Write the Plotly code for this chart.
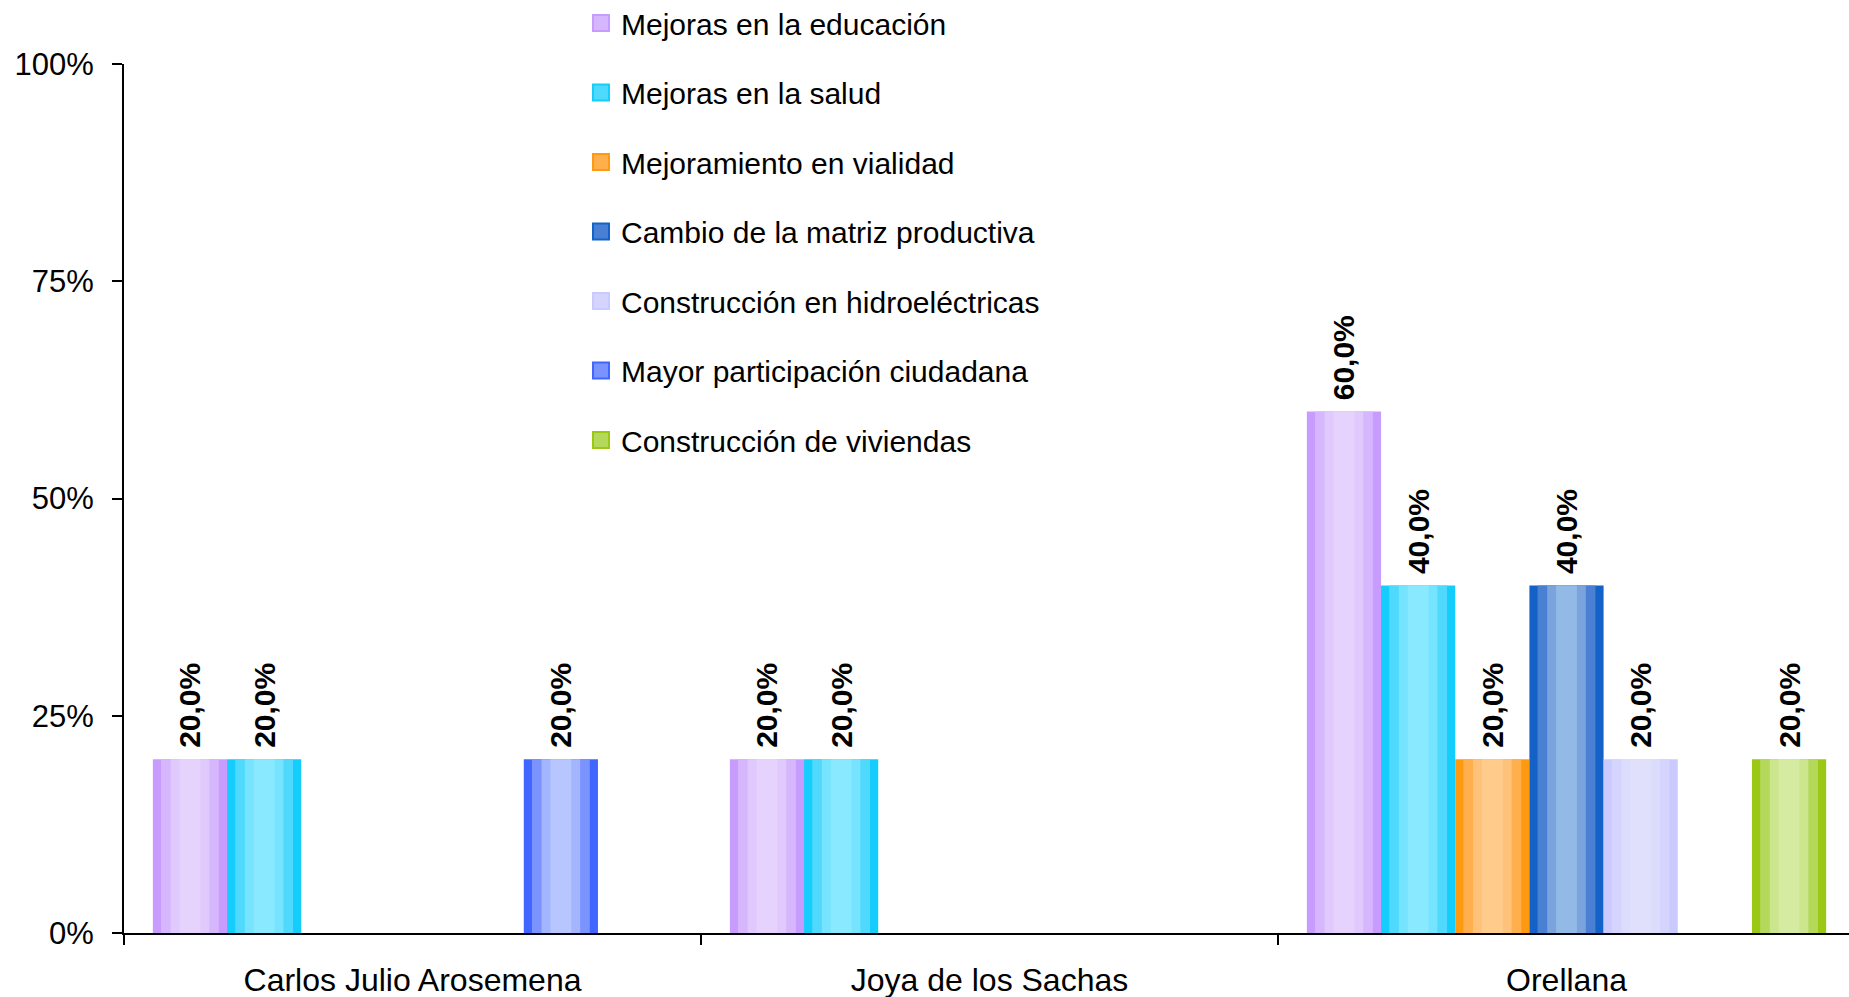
import plotly.graph_objects as go

categories = ["Carlos Julio Arosemena", "Joya de los Sachas", "Orellana"]

series_names = [
    "Mejoras en la educación",
    "Mejoras en la salud",
    "Mejoramiento en vialidad",
    "Cambio de la matriz productiva",
    "Construcción en hidroeléctricas",
    "Mayor participación ciudadana",
    "Construcción de viviendas",
]

educacion = [0.2, 0.2, 0.6]
salud = [0.2, 0.2, 0.4]
vialidad = [None, None, 0.2]
matriz = [None, None, 0.4]
hidro = [None, None, 0.2]
participacion = [0.2, None, None]
viviendas = [None, None, 0.2]

series_values = [educacion, salud, vialidad, matriz, hidro, participacion, viviendas]

y_tick_vals = [0, 0.25, 0.5, 0.75, 1.0]

# gradient shades: edge -> center
shades = [
    ["#c89cff", "#d6b6fd", "#e0c9fc", "#e6d3fd"],
    ["#14cdfd", "#4ed9fd", "#76e4fe", "#88e9ff"],
    ["#ff9a10", "#ffb04c", "#ffc27a", "#ffcc8c"],
    ["#1462c8", "#4a80d4", "#7ba4de", "#93bae6"],
    ["#cacaff", "#d4d4ff", "#dcdcfd", "#e0e0fd"],
    ["#4066ff", "#7a93ff", "#a4b5ff", "#b8c6ff"],
    ["#9ac814", "#b4d85a", "#cce68e", "#d6eba2"],
]

bargap = 0.1
slot = (1 - bargap) / len(series_names)
width_factors = [0.78, 0.52, 0.28]

FONT = "Liberation Sans, Arial, sans-serif"

fig = go.Figure()
for i, (name, vals) in enumerate(zip(series_names, series_values)):
    fig.add_trace(go.Bar(
        x=categories, y=vals, name=name,
        offsetgroup=str(i), legendgroup=str(i), showlegend=False,
        marker=dict(color=shades[i][0], line=dict(width=0)),
        texttemplate="\u00a0%{y:.1%}", textposition="outside", textangle=-90,
        textfont=dict(family=FONT, size=30, color="black", weight="bold"),
        cliponaxis=False, constraintext="none",
        hoverinfo="skip",
    ))
    for k, wf in enumerate(width_factors):
        fig.add_trace(go.Bar(
            x=categories, y=vals, name=name,
            offsetgroup=str(i), legendgroup=str(i), showlegend=False,
            width=slot * wf,
            marker=dict(color=shades[i][k + 1], line=dict(width=0)),
            hoverinfo="skip",
        ))

# legend entries (square swatches, larger than the default bar swatch)
for i, name in enumerate(series_names):
    fig.add_trace(go.Scatter(
        x=[None], y=[None], mode="markers", name=name,
        legendgroup=str(i), showlegend=True,
        marker=dict(symbol="square", size=16, color=shades[i][1],
                    line=dict(color=shades[i][0], width=2)),
        hoverinfo="skip",
    ))

fig.update_layout(
    width=1855, height=997,
    margin=dict(l=124, r=0, t=64, b=64, autoexpand=False),
    paper_bgcolor="white", plot_bgcolor="white",
    barmode="group", bargap=bargap, bargroupgap=0,
    separators=",.",
    font=dict(family=FONT, size=30, color="black"),
    showlegend=True,
    legend=dict(
        x=0.264, y=1.077, xanchor="left", yanchor="top",
        font=dict(family=FONT, size=30, color="black"),
        traceorder="grouped", tracegroupgap=27.5,
        bgcolor="rgba(0,0,0,0)", itemwidth=30, itemsizing="trace",
    ),
)

fig.update_xaxes(
    type="category", tickson="boundaries", ticks="outside", ticklen=10,
    tickwidth=2, tickcolor="black", showline=True, linecolor="black",
    linewidth=2, showgrid=False, automargin=False, ticklabelstandoff=18,
    tickfont=dict(family=FONT, size=32, color="black"),
)
fig.update_yaxes(
    range=[0, 1.0], tickvals=y_tick_vals, tickformat=".0%",
    ticks="outside", ticklen=10, tickwidth=2, tickcolor="black",
    showline=True, linecolor="black", linewidth=2, showgrid=False,
    zeroline=False, automargin=False, ticklabelstandoff=12,
    tickfont=dict(family=FONT, size=31, color="black"),
)

fig.write_html(
    "out.html",
    config={"displayModeBar": False},
    post_script="document.body.style.margin='0';document.body.style.overflow='hidden';",
)
